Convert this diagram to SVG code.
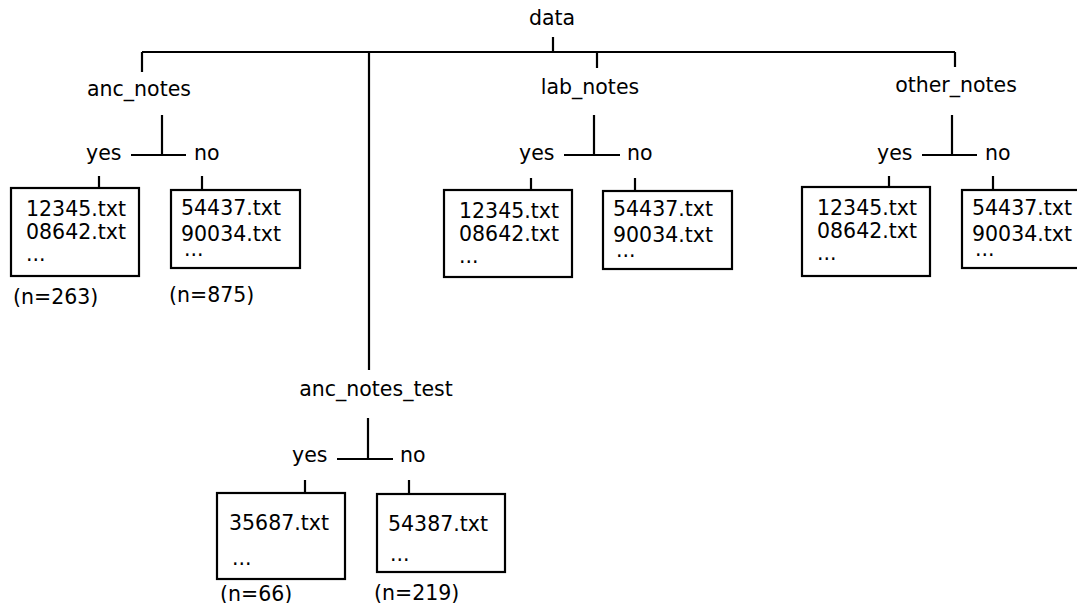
<svg xmlns="http://www.w3.org/2000/svg" width="1077" height="603" viewBox="0 0 1077 603">
<style>
text{font-family:"DejaVu Sans","Liberation Sans",sans-serif;font-size:20.5px;fill:#000}
.ln{stroke:#000;stroke-width:2.2;fill:none}
.box{stroke:#000;stroke-width:2.2;fill:#fff}
</style>
<rect width="1077" height="603" fill="#fff"/>
<g id="connectors" class="ln">
<path d="M553 37V52M142 52H955M142 52V72M369 52V370M597 52V68M955 52V67"/>
<path d="M162 115V155M131 155H186M99 176V188M202 176V190"/>
<path d="M594 115V155M564 155H620M531 178V190M635 178V191"/>
<path d="M952 115V155M922 155H977M889 176V187M993 176V190"/>
<path d="M368 418V459M337 459H393M305 480V493M409 480V494"/>
</g>
<g id="data"><text x="552" y="25" text-anchor="middle">data</text></g>
<g id="anc_notes"><text x="139" y="96" text-anchor="middle">anc_notes</text></g>
<g id="anc_yes_label"><text x="86" y="160">yes</text></g>
<g id="anc_no_label"><text x="194" y="160">no</text></g>
<g id="anc_yes_box"><rect class="box" x="11" y="188" width="128" height="88"/>
<text x="26" y="216">12345.txt</text><text x="26" y="238.5">08642.txt</text><text x="26" y="261">...</text>
<text x="13" y="304">(n=263)</text></g>
<g id="anc_no_box"><rect class="box" x="171" y="190" width="129" height="78"/>
<text x="181" y="215">54437.txt</text><text x="181" y="241">90034.txt</text><text x="184" y="256">...</text>
<text x="169" y="302">(n=875)</text></g>
<g id="lab_notes"><text x="590" y="94" text-anchor="middle">lab_notes</text></g>
<g id="lab_yes_label"><text x="519" y="160">yes</text></g>
<g id="lab_no_label"><text x="627" y="160">no</text></g>
<g id="lab_yes_box"><rect class="box" x="444" y="190" width="128" height="87"/>
<text x="459" y="218">12345.txt</text><text x="459" y="240.5">08642.txt</text><text x="459" y="263">...</text></g>
<g id="lab_no_box"><rect class="box" x="603" y="191" width="129" height="78"/>
<text x="613" y="216">54437.txt</text><text x="613" y="242">90034.txt</text><text x="616" y="257">...</text></g>
<g id="other_notes"><text x="956" y="92" text-anchor="middle">other_notes</text></g>
<g id="other_yes_label"><text x="877" y="160">yes</text></g>
<g id="other_no_label"><text x="985" y="160">no</text></g>
<g id="other_yes_box"><rect class="box" x="802" y="187" width="128" height="89"/>
<text x="817" y="215">12345.txt</text><text x="817" y="237.5">08642.txt</text><text x="817" y="260">...</text></g>
<g id="other_no_box"><rect class="box" x="962" y="190" width="129" height="78"/>
<text x="972" y="215">54437.txt</text><text x="972" y="241">90034.txt</text><text x="975" y="256">...</text></g>
<g id="anc_notes_test"><text x="376" y="396" text-anchor="middle">anc_notes_test</text></g>
<g id="test_yes_label"><text x="292" y="462">yes</text></g>
<g id="test_no_label"><text x="400" y="462">no</text></g>
<g id="test_yes_box"><rect class="box" x="217" y="493" width="128" height="86"/>
<text x="229" y="530">35687.txt</text><text x="232" y="565">...</text>
<text x="220" y="601">(n=66)</text></g>
<g id="test_no_box"><rect class="box" x="377" y="494" width="128" height="78"/>
<text x="388" y="531">54387.txt</text><text x="390" y="561">...</text>
<text x="374" y="600">(n=219)</text></g>
</svg>
